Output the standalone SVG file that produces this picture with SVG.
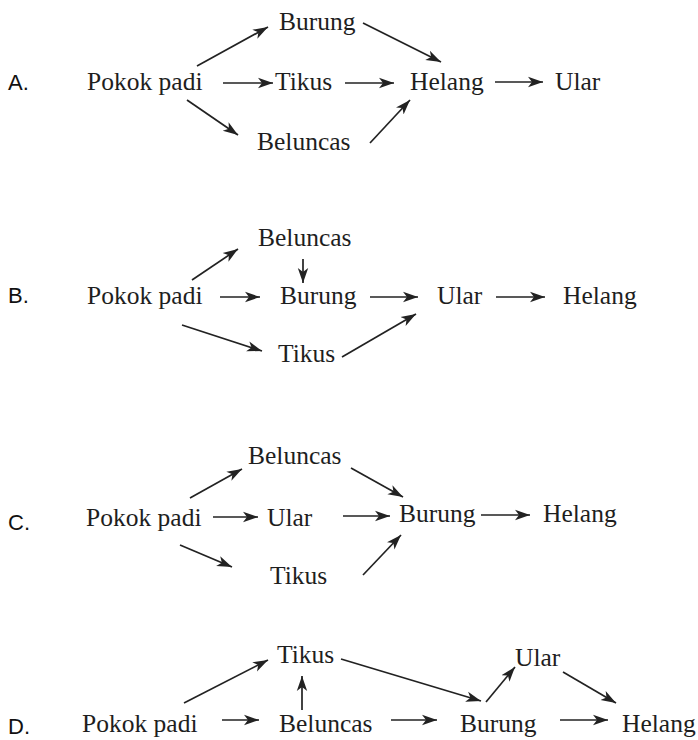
<svg xmlns="http://www.w3.org/2000/svg" width="698" height="740" viewBox="0 0 698 740">
<style>
.t{font-family:"Liberation Serif","Times New Roman",serif;font-size:25.5px;fill:#1e1e1e}
.l{font-family:"Liberation Sans",Arial,sans-serif;font-size:22px;fill:#111}
.c line{stroke:#222;stroke-width:1.7;marker-end:url(#ah)}
</style>
<defs>
<marker id="ah" markerUnits="userSpaceOnUse" markerWidth="16" markerHeight="12" refX="15" refY="6" orient="auto">
<path d="M0,0.8 L15,6 L0,11.2 L4,6 Z" fill="#222"/>
</marker>
</defs>
<rect width="698" height="740" fill="#fff"/>

<text class="l" x="8" y="90">A.</text>
<text class="l" x="8" y="303">B.</text>
<text class="l" x="8" y="530">C.</text>
<text class="l" x="8" y="734">D.</text>

<!-- A -->
<g id="a-pokok"><text class="t" x="87" y="90">Pokok padi</text></g>
<g id="a-tikus"><text class="t" x="275" y="90">Tikus</text></g>
<g id="a-helang"><text class="t" x="410" y="90">Helang</text></g>
<g id="a-ular"><text class="t" x="555" y="90">Ular</text></g>
<g id="a-burung"><text class="t" x="279" y="30">Burung</text></g>
<g id="a-beluncas"><text class="t" x="257" y="150">Beluncas</text></g>

<!-- B -->
<g id="b-pokok"><text class="t" x="87" y="304">Pokok padi</text></g>
<g id="b-burung"><text class="t" x="280" y="304">Burung</text></g>
<g id="b-ular"><text class="t" x="437" y="304">Ular</text></g>
<g id="b-helang"><text class="t" x="563" y="304">Helang</text></g>
<g id="b-beluncas"><text class="t" x="258" y="246">Beluncas</text></g>
<g id="b-tikus"><text class="t" x="278" y="362">Tikus</text></g>

<!-- C -->
<g id="c-pokok"><text class="t" x="86" y="526">Pokok padi</text></g>
<g id="c-ular"><text class="t" x="267" y="526">Ular</text></g>
<g id="c-burung"><text class="t" x="399" y="522">Burung</text></g>
<g id="c-helang"><text class="t" x="543" y="522">Helang</text></g>
<g id="c-beluncas"><text class="t" x="248" y="464">Beluncas</text></g>
<g id="c-tikus"><text class="t" x="270" y="584">Tikus</text></g>

<!-- D -->
<g id="d-pokok"><text class="t" x="82" y="732">Pokok padi</text></g>
<g id="d-beluncas"><text class="t" x="279" y="732">Beluncas</text></g>
<g id="d-burung"><text class="t" x="460" y="732">Burung</text></g>
<g id="d-helang"><text class="t" x="622" y="732">Helang</text></g>
<g id="d-tikus"><text class="t" x="277" y="663">Tikus</text></g>
<g id="d-ular"><text class="t" x="515" y="666">Ular</text></g>

<g id="connectors" class="c">
<line x1="197" y1="66" x2="268" y2="27"/>
<line x1="223" y1="83" x2="273" y2="83"/>
<line x1="187" y1="100" x2="238" y2="135"/>
<line x1="345" y1="83" x2="394" y2="83"/>
<line x1="363" y1="23" x2="441" y2="62"/>
<line x1="370" y1="143" x2="410" y2="100"/>
<line x1="495" y1="82" x2="543" y2="82"/>

<line x1="192" y1="280" x2="238" y2="249"/>
<line x1="303" y1="259" x2="303" y2="283"/>
<line x1="220" y1="297" x2="260" y2="297"/>
<line x1="182" y1="325" x2="262" y2="351"/>
<line x1="370" y1="297" x2="418" y2="297"/>
<line x1="342" y1="357" x2="416" y2="314"/>
<line x1="496" y1="297" x2="545" y2="297"/>

<line x1="190" y1="498" x2="242" y2="469"/>
<line x1="213" y1="517" x2="258" y2="517"/>
<line x1="180" y1="545" x2="232" y2="567"/>
<line x1="343" y1="516" x2="390" y2="516"/>
<line x1="351" y1="468" x2="403" y2="497"/>
<line x1="363" y1="575" x2="401" y2="535"/>
<line x1="481" y1="515" x2="530" y2="515"/>

<line x1="222" y1="720" x2="259" y2="720"/>
<line x1="184" y1="703" x2="268" y2="660"/>
<line x1="302" y1="710" x2="302" y2="676"/>
<line x1="341" y1="659" x2="481" y2="701"/>
<line x1="391" y1="720" x2="437" y2="720"/>
<line x1="486" y1="702" x2="515" y2="667"/>
<line x1="563" y1="672" x2="616" y2="703"/>
<line x1="560" y1="720" x2="608" y2="720"/>
</g>
</svg>
